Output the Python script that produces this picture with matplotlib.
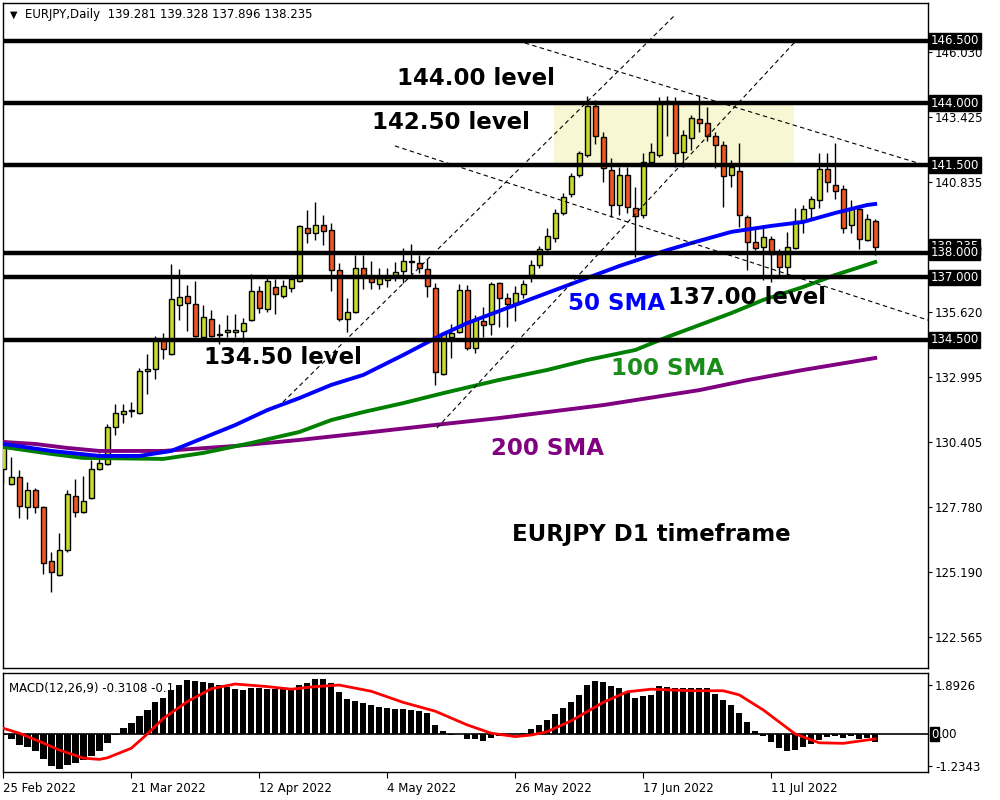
import matplotlib
matplotlib.use('Agg')
import matplotlib.pyplot as plt
from matplotlib.patches import Rectangle
import numpy as np

# EURJPY daily candles, 25 Feb 2022 .. 28 Jul 2022
opens = [129.31, 128.71, 128.99, 127.79, 128.47, 127.79, 125.62, 125.06, 126.06, 128.23,
         127.59, 128.15, 129.31, 129.52, 131.00, 131.52, 131.64, 131.56, 133.25, 133.33,
         134.49, 133.93, 135.90, 136.26, 135.94, 134.61, 135.33, 134.73, 134.81, 134.81,
         134.85, 135.29, 136.46, 135.74, 136.62, 136.26, 136.58, 136.86, 138.99, 138.79,
         139.11, 138.91, 137.30, 135.33, 135.61, 137.38, 136.98, 136.74, 136.90, 137.10,
         137.26, 137.62, 137.58, 137.34, 136.58, 133.13, 134.61, 134.81, 136.50, 134.17,
         135.25, 135.13, 136.78, 136.18, 135.98, 136.34, 137.10, 137.50, 138.14, 138.58,
         139.59, 140.35, 141.11, 141.92, 143.88, 142.64, 141.31, 139.91, 141.11, 139.79,
         139.51, 141.63, 141.92, 144.00, 144.00, 142.04, 142.60, 143.36, 143.20, 142.68,
         142.32, 141.11, 141.27, 139.43, 138.42, 138.22, 138.54, 137.94, 137.42, 138.18,
         139.27, 139.79, 140.11, 141.35, 140.71, 140.55, 139.11, 139.75, 138.50, 139.281]
highs = [130.48, 129.80, 129.27, 128.79, 128.55, 127.83, 125.98, 126.75, 128.47, 128.91,
         129.03, 129.68, 129.96, 131.12, 131.92, 131.92, 132.00, 133.37, 133.93, 134.65,
         134.77, 137.54, 137.34, 136.70, 136.86, 135.90, 135.70, 135.13, 135.49, 135.53,
         135.37, 137.14, 136.66, 136.98, 136.94, 136.90, 137.02, 139.11, 139.71, 140.03,
         139.51, 139.19, 137.58, 136.18, 137.90, 137.90, 137.66, 137.38, 137.38, 137.62,
         138.18, 138.34, 137.90, 137.74, 136.78, 134.81, 135.13, 136.74, 136.70, 135.49,
         135.82, 136.82, 136.82, 136.38, 136.66, 136.90, 137.70, 138.26, 138.99, 139.75,
         140.39, 141.19, 142.08, 144.28, 144.12, 142.84, 141.79, 141.43, 141.43, 140.63,
         142.00, 142.40, 144.24, 144.28, 144.24, 142.92, 143.52, 144.32, 143.84, 142.84,
         142.48, 141.71, 142.40, 139.51, 138.99, 139.11, 138.66, 138.14, 138.83, 139.79,
         139.91, 140.27, 142.00, 142.00, 142.40, 140.71, 140.11, 139.79, 139.55, 139.328]
lows = [128.75, 128.67, 127.35, 127.31, 127.55, 125.10, 124.38, 125.02, 125.98, 127.39,
        127.55, 128.11, 129.27, 129.48, 130.68, 131.16, 131.40, 131.52, 132.32, 132.93,
        133.73, 133.89, 135.29, 134.85, 134.61, 134.57, 134.61, 134.33, 134.61, 134.61,
        134.41, 135.25, 135.57, 135.61, 135.53, 136.18, 136.42, 136.82, 138.38, 138.50,
        138.30, 136.46, 135.25, 134.81, 135.57, 136.54, 136.54, 136.54, 136.62, 136.86,
        136.78, 137.14, 137.18, 136.22, 132.69, 133.09, 133.77, 134.77, 134.09, 133.97,
        134.61, 134.69, 135.01, 135.01, 135.25, 136.18, 136.82, 137.38, 138.02, 138.42,
        139.51, 140.23, 141.03, 141.83, 142.36, 140.83, 139.43, 139.51, 139.59, 137.82,
        139.39, 141.51, 141.83, 142.68, 141.43, 141.43, 142.12, 142.84, 142.48, 141.39,
        139.83, 140.63, 139.03, 137.30, 138.10, 136.90, 136.82, 137.06, 137.06, 138.14,
        138.79, 139.35, 139.79, 140.43, 140.15, 138.79, 138.79, 138.14, 138.46, 137.896]
closes = [130.36, 128.99, 127.83, 128.47, 127.79, 125.54, 125.18, 126.06, 128.31, 127.59,
          128.03, 129.31, 129.56, 131.00, 131.56, 131.64, 131.68, 133.25, 133.33, 134.49,
          134.13, 136.14, 136.22, 135.98, 134.65, 135.41, 134.65, 134.69, 134.89, 134.89,
          135.17, 136.46, 135.78, 136.86, 136.34, 136.66, 136.94, 139.07, 138.79, 139.11,
          138.87, 137.30, 135.33, 135.61, 137.38, 137.10, 136.82, 136.98, 137.02, 137.22,
          137.66, 137.66, 137.38, 136.66, 133.21, 134.77, 134.77, 136.50, 134.17, 135.33,
          135.09, 136.74, 136.18, 135.94, 136.38, 136.74, 137.50, 138.14, 138.66, 139.59,
          140.23, 141.07, 142.00, 143.88, 142.68, 141.39, 139.91, 141.11, 139.83, 139.47,
          141.63, 142.04, 144.00, 144.08, 142.00, 142.72, 143.40, 143.20, 142.68, 142.32,
          141.07, 141.43, 139.51, 138.42, 138.18, 138.62, 137.94, 137.42, 138.22, 139.27,
          139.75, 140.15, 141.35, 140.83, 140.47, 138.99, 139.75, 138.54, 139.35, 138.235]

# moving averages (sampled off the chart)
sma50_idx = [0, 6, 12, 17, 21, 25, 29, 33, 37, 41, 45, 50, 55, 58, 65, 73, 77, 83, 86, 91, 96, 100, 104, 108, 109]
sma50_val = [130.32, 130.04, 129.84, 129.84, 130.04, 130.56, 131.08, 131.68, 132.16, 132.69, 133.09, 133.89, 134.73,
             135.17, 136.02, 136.98, 137.46, 138.10, 138.38, 138.83, 139.07, 139.23, 139.59, 139.91, 139.95]
sma100_idx = [0, 6, 10, 20, 25, 31, 37, 41, 45, 50, 55, 62, 68, 73, 79, 83, 91, 95, 100, 104, 109]
sma100_val = [130.20, 129.92, 129.76, 129.72, 129.96, 130.36, 130.80, 131.28, 131.60, 131.96, 132.36, 132.89,
              133.29, 133.69, 134.09, 134.61, 135.57, 136.10, 136.62, 137.10, 137.62]
sma200_idx = [0, 4, 8, 12, 20, 29, 37, 45, 55, 62, 75, 87, 93, 100, 109]
sma200_val = [130.40, 130.32, 130.16, 130.04, 130.04, 130.24, 130.48, 130.76, 131.12, 131.36, 131.88, 132.48,
              132.88, 133.29, 133.77]

# MACD(12,26,9) histogram and signal
macd_hist = [-0.05, -0.19, -0.42, -0.49, -0.64, -0.97, -1.22, -1.34, -1.18, -1.13,
             -1.00, -0.85, -0.64, -0.33, -0.02, 0.22, 0.44, 0.69, 0.93, 1.22,
             1.38, 1.70, 1.89, 2.08, 2.05, 2.02, 1.96, 1.89, 1.83, 1.74,
             1.70, 1.76, 1.76, 1.74, 1.74, 1.74, 1.74, 1.89, 1.98, 2.11,
             2.11, 1.96, 1.61, 1.34, 1.29, 1.21, 1.12, 1.05, 0.99, 0.95,
             0.95, 0.93, 0.90, 0.80, 0.35, 0.12, -0.04, -0.01, -0.19, -0.19,
             -0.26, -0.14, -0.06, -0.03, 0.01, 0.05, 0.18, 0.35, 0.54, 0.77,
             0.99, 1.24, 1.51, 1.89, 2.05, 2.00, 1.85, 1.76, 1.62, 1.38,
             1.47, 1.51, 1.86, 1.81, 1.76, 1.76, 1.76, 1.76, 1.76, 1.54,
             1.31, 1.12, 0.80, 0.48, 0.12, -0.08, -0.32, -0.55, -0.64, -0.62,
             -0.51, -0.39, -0.23, -0.10, -0.08, -0.17, -0.08, -0.21, -0.17, -0.31]
sig_idx = [0, 2, 5, 7, 10, 12, 13, 16, 18, 20, 23, 26, 29, 33, 36, 39, 42, 46, 50, 54, 58, 61, 64,
           66, 68, 71, 75, 78, 81, 86, 90, 92, 95, 99, 102, 105, 109]
sig_val = [0.22, 0.03, -0.35, -0.62, -0.93, -0.98, -0.92, -0.55, 0.00, 0.60, 1.25, 1.75, 1.93, 1.83, 1.73,
           1.83, 1.89, 1.65, 1.22, 0.88, 0.35, 0.03, -0.10, -0.04, 0.09, 0.51, 1.22, 1.63, 1.73, 1.67,
           1.67, 1.51, 0.93, 0.00, -0.34, -0.36, -0.19]

levels = [146.5, 144.0, 141.5, 138.0, 137.0, 134.5]
level_labels = ['146.500', '144.000', '141.500', '138.000', '137.000', '134.500']
price_ticks = [146.030, 143.425, 140.835, 138.225, 135.620, 132.995, 130.405, 127.780, 125.190, 122.565]
date_idx = [0, 16, 32, 48, 64, 80, 96]
date_labels = ['25 Feb 2022', '21 Mar 2022', '12 Apr 2022', '4 May 2022', '26 May 2022', '17 Jun 2022', '11 Jul 2022']
macd_ticks = [1.8926, -1.2343]
last_close = 138.235

fig = plt.figure(figsize=(10, 8), dpi=100)
ax = fig.add_axes([0.003, 0.165, 0.925, 0.83125])
ax2 = fig.add_axes([0.003, 0.035, 0.925, 0.12375])

x = np.arange(len(opens))
o = np.array(opens)
c = np.array(closes)
body_col = np.where(c >= o, '#c6da2c', '#f0561e')

# resistance zone
ax.add_patch(Rectangle((68.9, 141.45), 30.0, 2.55, facecolor='#f7f7d3', edgecolor='none', zorder=0.5))

ax.vlines(x, lows, highs, color='black', lw=1, zorder=2)
ax.bar(x, np.abs(c - o), bottom=np.minimum(o, c), width=0.62, color=body_col,
       edgecolor='black', linewidth=1, zorder=3)

ax.plot(sma200_idx, sma200_val, color='#800080', lw=2.8, zorder=4)
ax.plot(sma100_idx, sma100_val, color='#008000', lw=2.8, zorder=4)
ax.plot(sma50_idx, sma50_val, color='#0000ff', lw=2.8, zorder=4)

# trend lines
dash = (0, (4, 3))
ax.plot([65.2, 115.6], [146.41, 141.47], color='black', lw=0.8, ls=dash, zorder=4.5)
ax.plot([48.96, 115.6], [142.28, 135.29], color='black', lw=0.8, ls=dash, zorder=4.5)
ax.plot([34.96, 83.97], [132.00, 147.53], color='black', lw=0.8, ls=dash, zorder=4.5)
ax.plot([54.2, 98.96], [130.96, 146.45], color='black', lw=0.8, ls=dash, zorder=4.5)

for lv in levels:
    ax.axhline(lv, color='black', lw=3.2, zorder=5)

tf = dict(fontsize=16.5, fontweight='bold', ha='center', va='center', zorder=6, family='DejaVu Sans')
ax.text(59.1, 145.0, '144.00 level', color='black', **tf)
ax.text(56.0, 143.2, '142.50 level', color='black', **tf)
ax.text(35.0, 133.77, '134.50 level', color='black', **tf)
ax.text(93.0, 136.18, '137.00 level', color='black', **tf)
ax.text(76.7, 135.96, '50 SMA', color='#0000ff', **tf)
ax.text(83.1, 133.33, '100 SMA', color='#1a8c1a', **tf)
ax.text(68.0, 130.12, '200 SMA', color='#800080', **tf)
ax.text(81.0, 126.67, 'EURJPY D1 timeframe', color='black', **tf)

ax.text(0.008, 0.983, '\u25bc', transform=ax.transAxes, fontsize=7, va='center')
ax.text(0.024, 0.983, 'EURJPY,Daily  139.281 139.328 137.896 138.235', transform=ax.transAxes,
        fontsize=8.5, va='center')

ax.set_xlim(-0.04, 115.6)
ax.set_ylim(121.33, 148.015)
ax.set_xticks([])
ax.yaxis.tick_right()
ax.set_yticks(price_ticks)
ax.set_yticklabels([f'{v:.3f}' for v in price_ticks])
ax.tick_params(axis='y', length=3, width=0.8, labelsize=8.5, pad=2)

box = dict(boxstyle='square,pad=0.12', facecolor='black', edgecolor='black')
yt = ax.get_yaxis_transform()
ax.text(1.003, last_close, f'{last_close:.3f}', transform=yt, ha='left', va='center',
        color='white', fontsize=8.5, bbox=box, zorder=7)
for lv, lab in zip(levels, level_labels):
    ax.text(1.003, lv, lab, transform=yt, ha='left', va='center', color='white',
            fontsize=8.5, bbox=box, zorder=7)

# MACD panel
ax2.text(0.006, 0.84, 'MACD(12,26,9) -0.3108 -0.1', transform=ax2.transAxes, fontsize=8.5,
         va='center', zorder=1)
ax2.bar(x, macd_hist, width=0.8, color='black', zorder=3)
ax2.plot(sig_idx, sig_val, color='#ff0000', lw=2, zorder=4)
ax2.axhline(0, color='black', lw=1.2, zorder=2)
ax2.set_xlim(-0.04, 115.6)
ax2.set_ylim(-1.467, 2.355)
ax2.yaxis.tick_right()
ax2.set_yticks(macd_ticks)
ax2.set_yticklabels(['1.8926', '-1.2343'])
ax2.tick_params(axis='y', length=3, width=0.8, labelsize=8.5, pad=2)
ax2.set_xticks(date_idx)
ax2.set_xticklabels(date_labels, ha='left')
ax2.tick_params(axis='x', length=4, width=0.8, labelsize=8.5, pad=3)
yt2 = ax2.get_yaxis_transform()
ax2.text(1.003, 0, '0', transform=yt2, ha='left', va='center', color='white', fontsize=8.5,
         bbox=dict(boxstyle='square,pad=0.08', facecolor='black', edgecolor='black'))
ax2.text(1.0115, 0, '.00', transform=yt2, ha='left', va='center', color='black', fontsize=8.5)

for a in (ax, ax2):
    for s in a.spines.values():
        s.set_color('black')
        s.set_linewidth(1)

fig.savefig('out.png', dpi=100)
